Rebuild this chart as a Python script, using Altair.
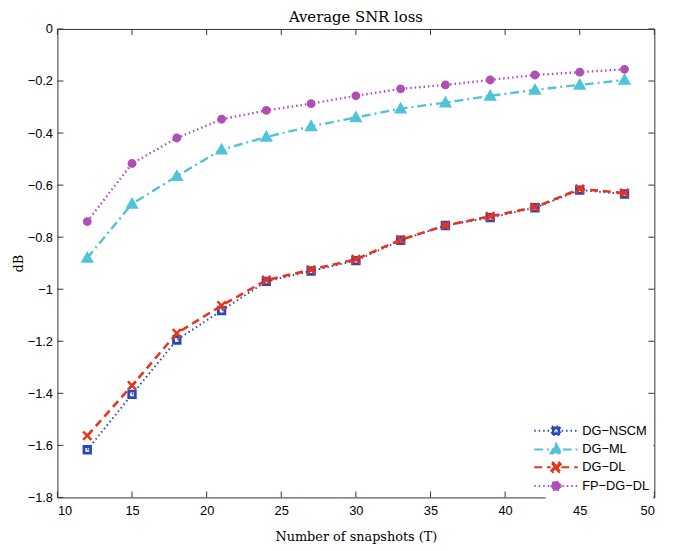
import altair as alt
import pandas as pd

# ---- data ----
T = [12, 15, 18, 21, 24, 27, 30, 33, 36, 39, 42, 45, 48]
dg_nscm = [-1.617, -1.404, -1.195, -1.082, -0.970, -0.930, -0.890, -0.812, -0.755, -0.725, -0.687, -0.619, -0.634]
dg_ml = [-0.880, -0.672, -0.566, -0.464, -0.415, -0.374, -0.340, -0.306, -0.283, -0.257, -0.234, -0.215, -0.196]
dg_dl = [-1.563, -1.370, -1.169, -1.063, -0.965, -0.925, -0.885, -0.810, -0.755, -0.720, -0.685, -0.615, -0.630]
fp_dg_dl = [-0.740, -0.517, -0.419, -0.347, -0.313, -0.287, -0.257, -0.230, -0.215, -0.196, -0.177, -0.166, -0.155]

series_names = ["DG\u2212NSCM", "DG\u2212ML", "DG\u2212DL", "FP\u2212DG\u2212DL"]
series_values = [dg_nscm, dg_ml, dg_dl, fp_dg_dl]
colors = ["#2a48b4", "#4fc3d8", "#e8341f", "#b14db6"]
dashes = [[1.5, 3], [9, 4, 2, 4], [8, 5], [1.5, 3]]
line_widths = [2.0, 2.4, 2.6, 2.4]

x_ticks = [10, 15, 20, 25, 30, 35, 40, 45, 50]
y_ticks = [0, -0.2, -0.4, -0.6, -0.8, -1.0, -1.2, -1.4, -1.6, -1.8]


# marker shapes as unit paths, scaled by k
def f(v):
    return f"{v:.3f}"


def sq_path(k=1.0):
    a, b = k, 0.4 * k
    return (f"M{f(-a)},{f(-a)}H{f(a)}V{f(a)}H{f(-a)}Z "
            f"M{f(-b)},{f(-b)}V{f(b)}H{f(b)}V{f(-b)}Z")


def tri_path(k=1.0):
    return f"M0,{f(-1.15 * k)}L{f(1.1 * k)},{f(0.8 * k)}H{f(-1.1 * k)}Z"


def x_path(k=1.0):
    p, q = 0.79 * k, 1.21 * k
    return (f"M{f(-p)},{f(-q)}L{f(q)},{f(p)}L{f(p)},{f(q)}L{f(-q)},{f(-p)}Z "
            f"M{f(p)},{f(-q)}L{f(q)},{f(-p)}L{f(-p)},{f(q)}L{f(-q)},{f(p)}Z")


def circ_path(k=1.0):
    r = f(k)
    return f"M{r},0A{r},{r} 0 1,1 {f(-k)},0A{r},{r} 0 1,1 {r},0Z"


makers = [sq_path, tri_path, x_path, circ_path]
marker_paths = [m(1.0) for m in makers]
marker_sizes = [90, 150, 70, 80]

# legend symbols (symbolSize 100 -> 1 unit = 5 px): marker plus line segments
legend_ks = [0.85, 1.0, 0.8, 0.95]
legend_paths = [f"M-4.4,0H{f(-k * 1.35)}M{f(k * 1.35)},0H4.4 " + m(k)
                for m, k in zip(makers, legend_ks)]

rows = []
for name, vals in zip(series_names, series_values):
    for t, v in zip(T, vals):
        rows.append({"T": t, "v": v, "series": name})
df = pd.DataFrame(rows)

W, H = 604, 474
xs = alt.Scale(domain=[10, 50], nice=False, zero=False)
ys = alt.Scale(domain=[-1.8, 0], nice=False, zero=False)

x_axis = alt.Axis(values=x_ticks, title="Number of snapshots (T)", orient="bottom",
                  ticks=False, tickSize=0, domain=False, grid=False,
                  labelPadding=7, titlePadding=14)
y_axis = alt.Axis(values=y_ticks, title="dB", format=".1~f", orient="left",
                  ticks=False, tickSize=0, domain=False, grid=False,
                  labelPadding=5, titlePadding=2)


def X():
    return alt.X("T:Q", scale=xs, axis=x_axis)


def Y():
    return alt.Y("v:Q", scale=ys, axis=y_axis)


layers = []
for i, name in enumerate(series_names):
    sub = alt.Chart(df).transform_filter(alt.datum.series == name)
    line = sub.mark_line(color=colors[i], strokeDash=dashes[i], strokeWidth=line_widths[i]).encode(
        x=X(), y=Y())
    pts = sub.mark_point(shape=marker_paths[i], filled=True, fill=colors[i], opacity=1,
                         size=marker_sizes[i], strokeWidth=0).encode(x=X(), y=Y())
    layers += [line, pts]

# ghost layer providing the legend only (draws no marks)
dom = series_names
legend = alt.Legend(title=None, orient="none", legendX=494, legendY=396, direction="vertical",
                    symbolSize=100, symbolStrokeWidth=2.0, labelFont="Liberation Sans",
                    labelFontSize=13, labelColor="black", labelOffset=20, rowPadding=0,
                    fillColor="white", padding=4, symbolOpacity=1)
ghost = alt.Chart(df).transform_filter("datum.T < 0").mark_point(filled=True, opacity=1).encode(
    x=X(), y=Y(),
    fill=alt.Fill("series:N", scale=alt.Scale(domain=dom, range=colors), legend=legend),
    stroke=alt.Stroke("series:N", scale=alt.Scale(domain=dom, range=colors), legend=legend),
    shape=alt.Shape("series:N", scale=alt.Scale(domain=dom, range=legend_paths), legend=legend),
    strokeDash=alt.StrokeDash("series:N", scale=alt.Scale(domain=dom, range=dashes), legend=legend),
)

# inward ticks on all four sides
xt = pd.DataFrame({"T": x_ticks})
yt = pd.DataFrame({"v": y_ticks})
tick_col = "#333333"
tb = alt.Chart(xt).mark_rule(color=tick_col, strokeWidth=1).encode(
    x=X(), y=alt.value(H), y2=alt.value(H - 6))
tt = alt.Chart(xt).mark_rule(color=tick_col, strokeWidth=1).encode(
    x=X(), y=alt.value(0), y2=alt.value(6))
tl = alt.Chart(yt).mark_rule(color=tick_col, strokeWidth=1).encode(
    y=Y(), x=alt.value(0), x2=alt.value(6))
tr = alt.Chart(yt).mark_rule(color=tick_col, strokeWidth=1).encode(
    y=Y(), x=alt.value(W - 6), x2=alt.value(W))

chart = alt.layer(*layers, ghost, tb, tt, tl, tr).properties(
    width=W, height=H,
    title=alt.Title("Average SNR loss", font="DejaVu Serif", fontSize=15, fontWeight="normal",
                    color="black", offset=-2, anchor="middle"),
    padding={"left": 50, "top": 18, "right": 29, "bottom": 51},
    autosize=alt.AutoSizeParams(type="none"),
    background="white",
).configure_view(stroke="#333333", strokeWidth=1).configure_axis(
    labelFont="Liberation Sans", labelFontSize=13, labelColor="black",
    titleFont="DejaVu Serif", titleFontSize=13, titleFontWeight="normal", titleColor="black"
)

chart.save("out.html", embed_options={"renderer": "svg", "actions": False})
